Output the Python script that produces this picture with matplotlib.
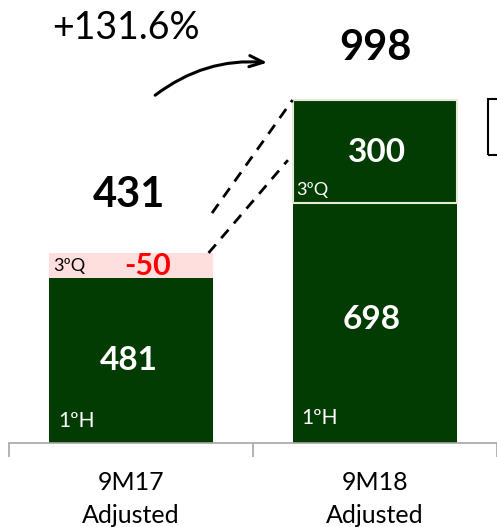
import matplotlib
matplotlib.use("Agg")
import matplotlib.pyplot as plt
from matplotlib.patches import Rectangle

# ---- data ----
categories = ["9M17\nAdjusted", "9M18\nAdjusted"]
h1_values = [481, 698]          # 1st half
q3_values = [-50, 300]          # 3rd quarter
totals = [431, 998]
growth_label = "+131.6%"
h1_tag = "1ºH"
q3_tag = "3ºQ"

# ---- style ----
DARK = "#023c02"
PINK = "#ffdede"
RED = "#ff0000"
EDGE_LIGHT = "#e4ecd8"
FONT = ["Lato", "DejaVu Sans"]
plt.rcParams["font.family"] = FONT
min_seg = 72  # minimum drawn height so the small adjustment label fits

W, H = 497, 527
fig = plt.figure(figsize=(W / 100, H / 100), dpi=100)
ax = fig.add_axes([9 / W, 84 / H, 1 - 9 / W, 443 / H])
ax.set_xlim(-0.5, 1.5)
ax.set_ylim(0, 1289)
bw = 0.676
x = [0, 1]

# bottom segments (1st half)
ax.bar(x, h1_values, width=bw, color=DARK, edgecolor="none", zorder=2)

# 9M17 adjustment (negative, pink)
neg_h = max(abs(q3_values[0]), min_seg)
ax.bar(x[0], neg_h, bottom=h1_values[0], width=bw, color=PINK,
       edgecolor="none", zorder=1)
# 9M18 3rd quarter
ax.bar(x[1], q3_values[1], bottom=h1_values[1], width=bw, color=DARK,
       edgecolor=EDGE_LIGHT, linewidth=1.5, zorder=2)

# segment labels
ax.text(x[0] - 0.01, h1_values[0] / 2 + 1, f"{h1_values[0]}", ha="center", va="center",
        color="white", fontsize=24, fontweight="bold", zorder=5)
ax.text(x[1] - 0.015, h1_values[1] / 2 + 9, f"{h1_values[1]}", ha="center", va="center",
        color="white", fontsize=24, fontweight="bold", zorder=5)
ax.text(x[1] + 0.01, h1_values[1] + q3_values[1] * 0.5 - 4, f"{q3_values[1]}",
        ha="center", va="center", color="white", fontsize=24, fontweight="bold", zorder=5)
ax.text(x[0] + 0.07, h1_values[0] + neg_h / 2 - 2, f"{q3_values[0]}", ha="center",
        va="center", color=RED, fontsize=22, fontweight="bold", zorder=5)

# small tags
ax.text(x[0] - bw / 2 + 0.02, h1_values[0] + 12, q3_tag, ha="left", va="bottom",
        color="black", fontsize=13, zorder=5)
ax.text(x[1] - bw / 2 + 0.015, h1_values[1] + 14, q3_tag, ha="left", va="bottom",
        color="white", fontsize=13, zorder=5)
ax.text(x[0] - bw / 2 + 0.04, 64, h1_tag, ha="left", va="center",
        color="white", fontsize=15, zorder=5)
ax.text(x[1] - bw / 2 + 0.035, 72, h1_tag, ha="left", va="center",
        color="white", fontsize=15, zorder=5)

# totals
ax.text(x[0] - 0.01, totals[0] + 291, f"{totals[0]}", ha="center", va="center",
        color="black", fontsize=30, fontweight="bold")
ax.text(x[1], totals[1] + 151, f"{totals[1]}", ha="center", va="center",
        color="black", fontsize=30, fontweight="bold")

# dashed connector lines
ax.plot([0.332, x[1] - bw / 2], [669, totals[1]], ls=(0, (4, 3)), color="black",
        lw=2, zorder=3)
ax.plot([x[0] + bw / 2 - 0.02, 0.643], [h1_values[0] + neg_h, 823], ls=(0, (4, 3)),
        color="black", lw=2, zorder=3)

# growth arrow
ax.annotate("", xy=(0.57, 1106), xytext=(0.09, 1007),
            arrowprops=dict(arrowstyle="->,head_length=1.0,head_width=0.4",
                            connectionstyle="arc3,rad=-0.2", lw=2.2, color="black"),
            annotation_clip=False)
ax.text(-0.02, 1207, growth_label, ha="center", va="center", fontsize=27,
        color="black")

# axes styling
for s in ["top", "right", "left"]:
    ax.spines[s].set_visible(False)
ax.spines["bottom"].set_color("#a6a6a6")
ax.spines["bottom"].set_linewidth(1.2)
ax.set_yticks([])
ax.set_xticks(x)
ax.set_xticklabels(categories, fontsize=18, linespacing=1.52)
ax.tick_params(axis="x", which="major", length=0, pad=20)
ax.set_xticks([-0.5, 0.5, 1.5], minor=True)
ax.tick_params(axis="x", which="minor", length=10, width=1.2, color="#a6a6a6")

# partially visible legend box at right edge
fig.patches.append(Rectangle((488 / W, (H - 155) / H), 0.05, 56 / H,
                             transform=fig.transFigure, fill=False,
                             edgecolor="black", linewidth=1.5))

fig.savefig("out.png", dpi=100)
